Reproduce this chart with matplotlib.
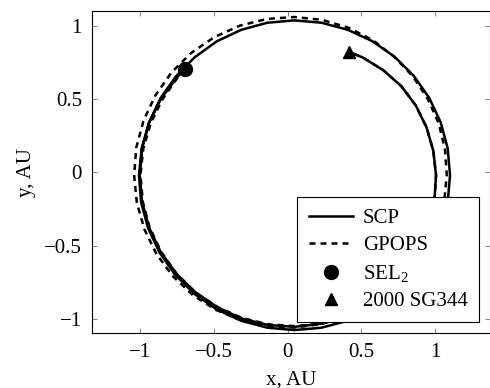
import numpy as np
import matplotlib
matplotlib.use("Agg")
import matplotlib.pyplot as plt

# Both trajectories read off the reference as polar samples (angle in degrees,
# counted on past 360 for the second revolution; radius in AU) around the
# middle of the loop at (0.045, -0.020) AU.
loop_center = (0.045, -0.020)

scp_angle = [135.7, 140, 150, 160, 170, 180, 190, 200, 210, 220, 230, 240, 250, 260,
             270, 280, 290, 300, 310, 320, 330, 340, 350, 360, 370, 380, 390, 400,
             410, 420, 430, 440, 450, 460, 470, 480, 490, 500, 510, 520, 530, 540,
             550, 560, 570, 580, 590, 600, 610, 620, 630, 640, 650, 660, 670, 680,
             690, 700, 710, 720, 730, 740, 750, 760, 770, 780, 785.9]
scp_radius = [1.037, 1.040, 1.045, 1.050, 1.053, 1.055, 1.057, 1.057, 1.057, 1.057,
              1.057, 1.057, 1.057, 1.057, 1.057, 1.057, 1.057, 1.057, 1.057, 1.057,
              1.057, 1.057, 1.057, 1.057, 1.057, 1.057, 1.057, 1.057, 1.057, 1.057,
              1.057, 1.057, 1.057, 1.057, 1.056, 1.055, 1.052, 1.050, 1.050, 1.050,
              1.050, 1.050, 1.050, 1.049, 1.048, 1.046, 1.044, 1.042, 1.041, 1.038,
              1.035, 1.030, 1.020, 1.010, 1.000, 0.990, 0.980, 0.973, 0.966, 0.962,
              0.958, 0.955, 0.952, 0.947, 0.937, 0.928, 0.920]

gpops_angle = scp_angle
gpops_radius = [1.037, 1.036, 1.035, 1.038, 1.042, 1.045, 1.045, 1.045, 1.045, 1.045,
                1.045, 1.040, 1.037, 1.033, 1.030, 1.030, 1.030, 1.030, 1.030, 1.030,
                1.030, 1.031, 1.033, 1.035, 1.038, 1.042, 1.045, 1.050, 1.055, 1.065,
                1.072, 1.077, 1.080, 1.083, 1.086, 1.088, 1.090, 1.090, 1.090, 1.090,
                1.090, 1.088, 1.086, 1.083, 1.080, 1.075, 1.070, 1.062, 1.055, 1.047,
                1.040, 1.032, 1.025, 1.012, 1.002, 0.992, 0.982, 0.973, 0.966, 0.962,
                0.958, 0.955, 0.952, 0.947, 0.937, 0.928, 0.920]

sel2 = (-0.697, 0.705)
sg344 = (0.418, 0.820)

xticks = [-1, -0.5, 0, 0.5, 1]
yticks = [-1, -0.5, 0, 0.5, 1]
tick_labels = ["\u22121", "\u22120.5", "0", "0.5", "1"]


def to_xy(angle, radius):
    a = np.radians(angle)
    r = np.asarray(radius)
    return loop_center[0] + r * np.cos(a), loop_center[1] + r * np.sin(a)


plt.rcParams["font.family"] = ["Liberation Serif", "DejaVu Serif"]
plt.rcParams["mathtext.fontset"] = "custom"
plt.rcParams["mathtext.rm"] = "Liberation Serif"
plt.rcParams["mathtext.it"] = "Liberation Serif:italic"

fig = plt.figure(figsize=(4.9, 3.88), dpi=100)
ax = fig.add_axes([0.1884, 0.1425, 0.8106, 0.8284])

sx, sy = to_xy(scp_angle, scp_radius)
gx, gy = to_xy(gpops_angle, gpops_radius)
ax.plot(sx, sy, color="black", lw=1.8, solid_joinstyle="round", label="SCP")
ax.plot(gx, gy, color="black", lw=1.8, linestyle=(0, (2.4, 2.0)), label="GPOPS")
ax.plot([sel2[0]], [sel2[1]], "o", color="black", ms=10, linestyle="none", label="SEL$_2$")
ax.plot([sg344[0]], [sg344[1]], "^", color="black", ms=8.5, linestyle="none", label="2000 SG344")

ax.set_xlim(-1.327, 1.370)
ax.set_ylim(-1.095, 1.099)
ax.set_xticks(xticks)
ax.set_yticks(yticks)
ax.set_xticklabels(tick_labels)
ax.set_yticklabels(tick_labels)
ax.tick_params(direction="in", length=3.6, width=0.6, color="0.45", pad=7.5,
               labelsize=15, top=True, right=True)
for sp in ax.spines.values():
    sp.set_linewidth(0.8)

ax.set_xlabel("x, AU", fontsize=15, labelpad=6)
ax.set_ylabel("y, AU", fontsize=15, labelpad=6)

leg = ax.legend(loc="lower right", bbox_to_anchor=(0.9743, 0.032), borderaxespad=0,
                fontsize=15, handlelength=2.1, handletextpad=0.5, borderpad=0.55,
                labelspacing=0.36, numpoints=1, fancybox=False, framealpha=1)
leg.get_frame().set_edgecolor("black")
leg.get_frame().set_linewidth(0.8)

fig.savefig("out.png", dpi=100)
